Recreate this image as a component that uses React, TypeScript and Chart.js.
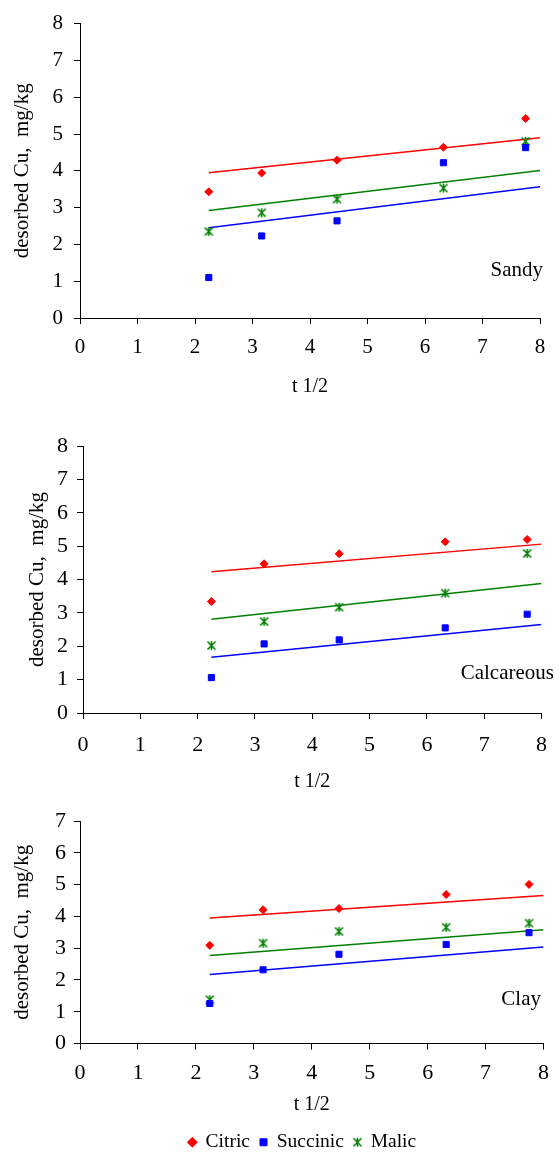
import React, { useEffect, useRef } from "react";
import { Chart, registerables } from "chart.js";

Chart.register(...registerables);

// ---------------- Data ----------------
const sqrtTime = [2.24, 3.16, 4.47, 6.32, 7.75];
const fitX = [2.24, 8];
const seriesNames = ["Citric", "Succinic", "Malic"];
const xAxisMax = 8;

const sandyCitric = [3.43, 3.94, 4.29, 4.64, 5.42];
const sandySuccinic = [1.1, 2.23, 2.64, 4.22, 4.63];
const sandyMalic = [2.35, 2.86, 3.23, 3.53, 4.8];
const sandyCitricFit = [3.95, 4.9];
const sandySuccinicFit = [2.45, 3.57];
const sandyMalicFit = [2.92, 4.01];

const calcCitric = [3.34, 4.47, 4.77, 5.13, 5.2];
const calcSuccinic = [1.06, 2.07, 2.19, 2.55, 2.96];
const calcMalic = [2.02, 2.74, 3.17, 3.59, 4.78];
const calcCitricFit = [4.23, 5.06];
const calcSuccinicFit = [1.67, 2.65];
const calcMalicFit = [2.81, 3.88];

const clayCitric = [3.09, 4.21, 4.25, 4.69, 5.01];
const claySuccinic = [1.26, 2.32, 2.81, 3.12, 3.49];
const clayMalic = [1.38, 3.16, 3.53, 3.66, 3.79];
const clayCitricFit = [3.95, 4.66];
const claySuccinicFit = [2.17, 3.04];
const clayMalicFit = [2.77, 3.58];

const xTitle = "t 1/2";
const yTitle = "desorbed Cu,  mg/kg";

// ---------------- Styles ----------------
const RED = "#FF0000";
const BLUE = "#0000FF";
const GREEN = "#008000";
const FONT = "'Liberation Serif', 'Times New Roman', serif";

let starImg: HTMLCanvasElement | null = null;
function getStar(): HTMLCanvasElement {
  if (starImg) return starImg;
  const c = document.createElement("canvas");
  c.width = 11;
  c.height = 11;
  const g = c.getContext("2d")!;
  g.strokeStyle = GREEN;
  g.lineWidth = 1.6;
  g.beginPath();
  g.moveTo(1.5, 1.5);
  g.lineTo(9.5, 9.5);
  g.moveTo(9.5, 1.5);
  g.lineTo(1.5, 9.5);
  g.moveTo(5.5, 1);
  g.lineTo(5.5, 10);
  g.stroke();
  starImg = c;
  return c;
}

const pts = (xs: number[], ys: number[]) => xs.map((x, i) => ({ x, y: ys[i] }));

function makeDatasets(c: number[], s: number[], m: number[], cf: number[], sf: number[], mf: number[]) {
  return [
    { label: seriesNames[0], data: pts(sqrtTime, c), pointStyle: "rectRot", pointRadius: 4, backgroundColor: RED, borderColor: RED, borderWidth: 1, order: 1 },
    { label: seriesNames[1], data: pts(sqrtTime, s), pointStyle: "rect", pointRadius: 4.3, backgroundColor: BLUE, borderColor: BLUE, borderWidth: 1, order: 1 },
    { label: seriesNames[2], data: pts(sqrtTime, m), pointStyle: getStar(), pointRadius: 5, backgroundColor: GREEN, borderColor: GREEN, borderWidth: 1.5, order: 1 },
    { label: "fitC", data: pts(fitX, cf), showLine: true, pointRadius: 0, borderColor: RED, borderWidth: 1.5, order: 2 },
    { label: "fitS", data: pts(fitX, sf), showLine: true, pointRadius: 0, borderColor: BLUE, borderWidth: 1.5, order: 2 },
    { label: "fitM", data: pts(fitX, mf), showLine: true, pointRadius: 0, borderColor: GREEN, borderWidth: 1.5, order: 2 },
  ];
}

type PanelCfg = {
  name: string;
  top: number;
  height: number;
  yMax: number;
  padding: { top: number; right: number; bottom: number; left: number };
  yWidth: number;
  xHeight: number;
  tickSize: number;
  yTickPad: number;
  xTickPad: number;
  yTitlePad: number;
  xTitlePad: number;
  legend: boolean;
  labelRight: number;
  labelTop: number;
  series: () => any[];
};

const panels: PanelCfg[] = [
  {
    name: "Sandy", top: 0, height: 405, yMax: 8,
    padding: { top: 20, right: 20, bottom: 0, left: 0 },
    yWidth: 80, xHeight: 87, tickSize: 21, yTickPad: 11, xTickPad: 10.4, yTitlePad: 9.4, xTitlePad: 6,
    legend: false, labelRight: 17, labelTop: 259,
    series: () => makeDatasets(sandyCitric, sandySuccinic, sandyMalic, sandyCitricFit, sandySuccinicFit, sandyMalicFit),
  },
  {
    name: "Calcareous", top: 420, height: 380, yMax: 8,
    padding: { top: 26, right: 11, bottom: 0, left: 0 },
    yWidth: 83, xHeight: 87, tickSize: 22, yTickPad: 9, xTickPad: 13, yTitlePad: 24.4, xTitlePad: 6,
    legend: false, labelRight: 6, labelTop: 662,
    series: () => makeDatasets(calcCitric, calcSuccinic, calcMalic, calcCitricFit, calcSuccinicFit, calcMalicFit),
  },
  {
    name: "Clay", top: 800, height: 362, yMax: 7,
    padding: { top: 17, right: 9, bottom: 0, left: 54 },
    yWidth: 26, xHeight: 79, tickSize: 22, yTickPad: 8, xTickPad: 11, yTitlePad: -44.6, xTitlePad: 6,
    legend: true, labelRight: 19, labelTop: 988,
    series: () => makeDatasets(clayCitric, claySuccinic, clayMalic, clayCitricFit, claySuccinicFit, clayMalicFit),
  },
];

function Panel({ cfg }: { cfg: PanelCfg }) {
  const ref = useRef<HTMLCanvasElement | null>(null);
  useEffect(() => {
    if (!ref.current) return;
    const chart = new Chart(ref.current, {
      type: "scatter",
      data: { datasets: cfg.series() as any },
      options: {
        responsive: false,
        animation: false,
        devicePixelRatio: 1,
        layout: { padding: cfg.padding },
        plugins: {
          tooltip: { enabled: false },
          legend: cfg.legend
            ? {
                display: true,
                position: "bottom",
                align: "center",
                labels: {
                  usePointStyle: true,
                  boxWidth: 7,
                  boxHeight: 7,
                  padding: 10,
                  color: "#000",
                  font: { family: FONT, size: 19.5 },
                  filter: (item: any) => item.datasetIndex < 3,
                },
              }
            : { display: false },
        },
        scales: {
          x: {
            type: "linear",
            position: "bottom",
            min: 0,
            max: xAxisMax,
            ticks: { stepSize: 1, padding: cfg.xTickPad, color: "#000", font: { family: FONT, size: cfg.tickSize }, maxRotation: 0, autoSkip: false },
            grid: { display: true, drawOnChartArea: false, drawTicks: true, tickLength: 6, color: "#000", lineWidth: 1 },
            border: { display: true, color: "#000", width: 1 },
            title: { display: true, text: xTitle, color: "#000", font: { family: FONT, size: 20 }, padding: { top: 0, bottom: cfg.xTitlePad } },
            afterFit: (s: any) => { s.height = cfg.xHeight; },
          },
          y: {
            type: "linear",
            position: "left",
            min: 0,
            max: cfg.yMax,
            ticks: { stepSize: 1, padding: cfg.yTickPad, color: "#000", font: { family: FONT, size: cfg.tickSize } },
            grid: { display: true, drawOnChartArea: false, drawTicks: true, tickLength: 6, color: "#000", lineWidth: 1 },
            border: { display: true, color: "#000", width: 1 },
            title: { display: true, text: yTitle, color: "#000", font: { family: FONT, size: 21 }, padding: { top: cfg.yTitlePad, bottom: 0 } },
            afterFit: (s: any) => { s.width = cfg.yWidth; },
          },
        },
      } as any,
    });
    return () => chart.destroy();
  }, [cfg]);
  return (
    <>
      <canvas
        ref={ref}
        width={560}
        height={cfg.height}
        style={{ position: "absolute", left: 0, top: cfg.top, width: 560, height: cfg.height }}
      />
      <div
        style={{
          position: "absolute",
          right: cfg.labelRight,
          top: cfg.labelTop,
          fontFamily: FONT,
          fontSize: 21,
          lineHeight: "21px",
          color: "#000",
          whiteSpace: "nowrap",
        }}
      >
        {cfg.name}
      </div>
    </>
  );
}

export default function App() {
  return (
    <div style={{ position: "absolute", left: 0, top: 0, width: 560, height: 1153, overflow: "hidden", background: "#fff" }}>
      {panels.map((p) => (
        <Panel key={p.name} cfg={p} />
      ))}
    </div>
  );
}
